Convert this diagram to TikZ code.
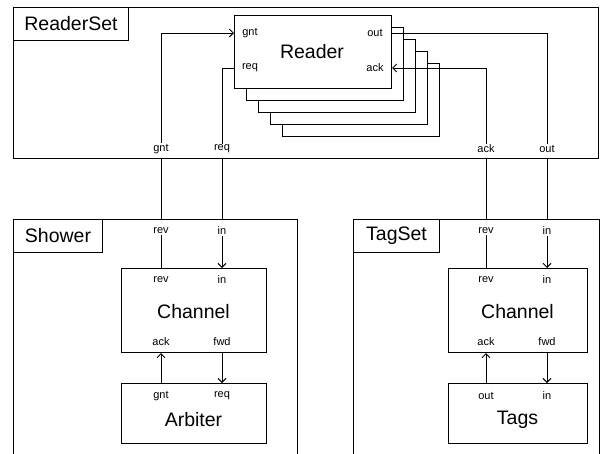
\documentclass[tikz,border=0pt]{standalone}
\usepackage{fontspec}
\setmainfont{Liberation Sans}
\usetikzlibrary{arrows.meta}
\begin{document}
\begin{tikzpicture}[x=1pt,y=-1pt,
  frame/.style={draw,line width=1pt,anchor=north west,inner sep=0pt},
  blk/.style={draw,line width=1pt,fill=white,anchor=north west,inner sep=0pt},
  big/.style={font=\fontsize{19.5}{21}\selectfont,inner sep=0pt},
  prt/.style={font=\fontsize{11}{12}\selectfont,inner sep=1pt},
  conn/.style={line width=1pt},
  arr/.style={line width=1pt,-{Straight Barb[length=4pt,width=8pt,line width=1pt]}}]
\useasboundingbox (0,0) rectangle (603,453);
\clip (0,0) rectangle (603,453);
% ReaderSet
\node[frame,minimum width=585pt,minimum height=151pt] (rset) at (13,7) {};
\node[frame,minimum width=115pt,minimum height=33pt] (rsetlbl) at (13,7) {};
\node[big] (rsettxt) at (rsetlbl.center) {ReaderSet};
% Reader stack
\node[blk,minimum width=157pt,minimum height=73pt] (sh4) at (282,63) {};
\node[blk,minimum width=157pt,minimum height=73pt] (sh3) at (270,51) {};
\node[blk,minimum width=157pt,minimum height=73pt] (sh2) at (258,39) {};
\node[blk,minimum width=157pt,minimum height=73pt] (sh1) at (246,27) {};
\node[blk,minimum width=157pt,minimum height=73pt] (reader) at (234,15) {};
\node[big] (readertxt) at (312,52) {Reader};
\node[prt] (rdgnt) at (250,33) {gnt};
\node[prt] (rdreq) at (250,68) {req};
\node[prt] (rdout) at (375,33) {out};
\node[prt] (rdack) at (375,68) {ack};
% ReaderSet ports
\node[prt] (rsgnt) at (161,149) {gnt};
\node[prt] (rsreq) at (222,149) {req};
\node[prt] (rsack) at (486,149) {ack};
\node[prt] (rsout) at (547,149) {out};
\draw[arr] (rsgnt.north) |- (reader.west |- rdgnt);
\draw[conn] (rsreq.north) |- (reader.west |- rdreq);
\draw[conn] (reader.east |- rdout) -| (rsout.north);
\draw[arr] (rsack.north) |- (reader.east |- rdack);
% Shower
\node[frame,minimum width=284pt,minimum height=250pt] (shower) at (13,219) {};
\node[frame,minimum width=89pt,minimum height=33pt] (showerlbl) at (13,219) {};
\node[big] (showertxt) at (showerlbl.center) {Shower};
\node[prt] (shrev) at (161,231) {rev};
\node[prt] (shin) at (222,231) {in};
\node[blk,minimum width=145pt,minimum height=84pt] (chA) at (121,268) {};
\node[big] (chAtxt) at (193.5,312) {Channel};
\node[prt] (chArev) at (161,280) {rev};
\node[prt] (chAin) at (222,280) {in};
\node[prt] (chAack) at (161,342) {ack};
\node[prt] (chAfwd) at (222,342) {fwd};
\node[blk,minimum width=145pt,minimum height=60pt] (arb) at (121,383) {};
\node[big] (arbtxt) at (193.5,420) {Arbiter};
\node[prt] (arbgnt) at (161,396) {gnt};
\node[prt] (arbreq) at (222,396) {req};
\draw[conn] (shrev.south) -- (shrev |- chA.north);
\draw[arr] (shin.south) -- (shin |- chA.north);
\draw[arr] (chAack |- arb.north) -- (chAack |- chA.south);
\draw[arr] (chAfwd |- chA.south) -- (chAfwd |- arb.north);
% TagSet
\node[frame,minimum width=246pt,minimum height=250pt] (tagset) at (353,219) {};
\node[frame,minimum width=86pt,minimum height=33pt] (tagsetlbl) at (353,219) {};
\node[big] (tagsettxt) at (tagsetlbl.center) {TagSet};
\node[prt] (tsrev) at (486,231) {rev};
\node[prt] (tsin) at (547,231) {in};
\node[blk,minimum width=139pt,minimum height=84pt] (chB) at (448,268) {};
\node[big] (chBtxt) at (517.5,312) {Channel};
\node[prt] (chBrev) at (486,280) {rev};
\node[prt] (chBin) at (547,280) {in};
\node[prt] (chBack) at (486,342) {ack};
\node[prt] (chBfwd) at (547,342) {fwd};
\node[blk,minimum width=139pt,minimum height=60pt] (tags) at (448,383) {};
\node[big] (tagstxt) at (517.5,420) {Tags};
\node[prt] (tgout) at (486,396) {out};
\node[prt] (tgin) at (547,396) {in};
\draw[conn] (tsrev.south) -- (tsrev |- chB.north);
\draw[arr] (tsin.south) -- (tsin |- chB.north);
\draw[arr] (chBack |- tags.north) -- (chBack |- chB.south);
\draw[arr] (chBfwd |- chB.south) -- (chBfwd |- tags.north);
% links between sets
\draw[conn] (rsgnt |- rset.south) -- (rsgnt |- shower.north);
\draw[conn] (rsreq |- rset.south) -- (rsreq |- shower.north);
\draw[conn] (rsack |- rset.south) -- (rsack |- tagset.north);
\draw[conn] (rsout |- rset.south) -- (rsout |- tagset.north);
\end{tikzpicture}
\end{document}
